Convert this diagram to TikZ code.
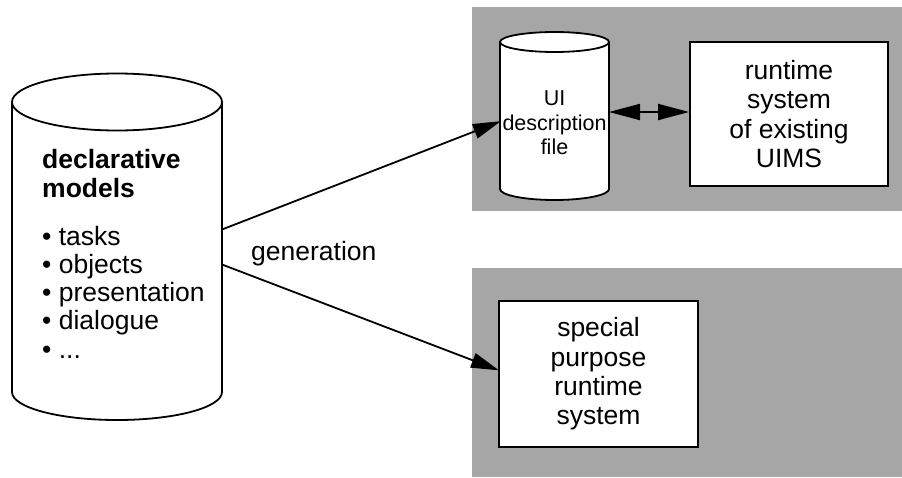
\documentclass[tikz,border=0pt]{standalone}
\usepackage{fontspec}
\setmainfont{Liberation Sans}
\usetikzlibrary{arrows.meta}
\definecolor{panelgray}{HTML}{A6A6A6}
\tikzset{
  lw/.style={line width=1.8pt},
  cyl/.style={lw, draw=black, fill=white},
  panel/.style={fill=panelgray, draw=none},
  anchorbox/.style={inner sep=0pt, outer sep=0pt, draw=none},
  bigtxt/.style={font=\fontsize{26.5}{29.4}\selectfont},
  smalltxt/.style={font=\fontsize{21.5}{24.5}\selectfont},
  linetxt/.style={bigtxt, anchor=base west, inner sep=0pt},
  box/.style={lw, draw=black, fill=white, align=center, bigtxt, inner sep=0pt},
  genarrow/.style={lw, -{Triangle[length=28pt,width=15pt]}, shorten >=-1pt},
  dblarrow/.style={lw, {Triangle[length=31pt,width=16pt]}-{Triangle[length=31pt,width=16pt]}}
}
\begin{document}
\begin{tikzpicture}[x=1pt,y=-1pt]
\useasboundingbox (0,0) rectangle (902,477);
% gray panels
\path[panel] (472,7) rectangle (902,211);
\path[panel] (472,268) rectangle (902,477);
% big cylinder
\path[cyl] (12,102) -- (12,392) arc[start angle=180,end angle=360,x radius=105pt,y radius=28pt] -- (222,102);
\path[cyl] (117,102) ellipse[x radius=105pt,y radius=28.5pt];
\node[anchorbox, minimum width=210pt, minimum height=290pt] (dm) at (117,247) {};
\node[linetxt, font=\fontsize{26.5}{28.7}\selectfont\bfseries] (t1) at (42,168) {declarative};
\node[linetxt, font=\fontsize{26.5}{28.7}\selectfont\bfseries] (t2) at (42,197) {models};
\node[linetxt] (b1) at (42,245) {• tasks};
\node[linetxt] (b2) at (42,273) {• objects};
\node[linetxt] (b3) at (42,301) {• presentation};
\node[linetxt] (b4) at (42,329) {• dialogue};
\node[linetxt] (b5) at (42,358) {• ...};
% UI cylinder
\path[cyl] (500,42) -- (500,189) arc[start angle=180,end angle=360,x radius=54.5pt,y radius=11pt] -- (609,42);
\path[cyl] (554.5,42) ellipse[x radius=54.5pt,y radius=10pt];
\node[anchorbox, minimum width=109pt, minimum height=147pt] (ui) at (554.5,115.5) {};
\node[smalltxt, align=center, inner sep=0pt] (uitxt) at (554.5,123) {UI\\description\\file};
% boxes
\node[box, minimum width=198pt, minimum height=144pt] (rt) at (789,114) {runtime\\system\\of existing\\UIMS};
\node[box, minimum width=199pt, minimum height=146pt] (sp) at (598.5,374) {special\\purpose\\runtime\\system};
% connectors
\draw[genarrow] ([yshift=17.5pt]dm.east) -- ([yshift=-6pt]ui.west);
\draw[genarrow] ([yshift=-17.5pt]dm.east) -- ([yshift=4pt]sp.west);
\draw[dblarrow] ([yshift=3.5pt]ui.east) -- ([yshift=3.5pt]ui.east -| rt.west);
\node[linetxt] (gen) at (251,260) {generation};
\end{tikzpicture}
\end{document}
